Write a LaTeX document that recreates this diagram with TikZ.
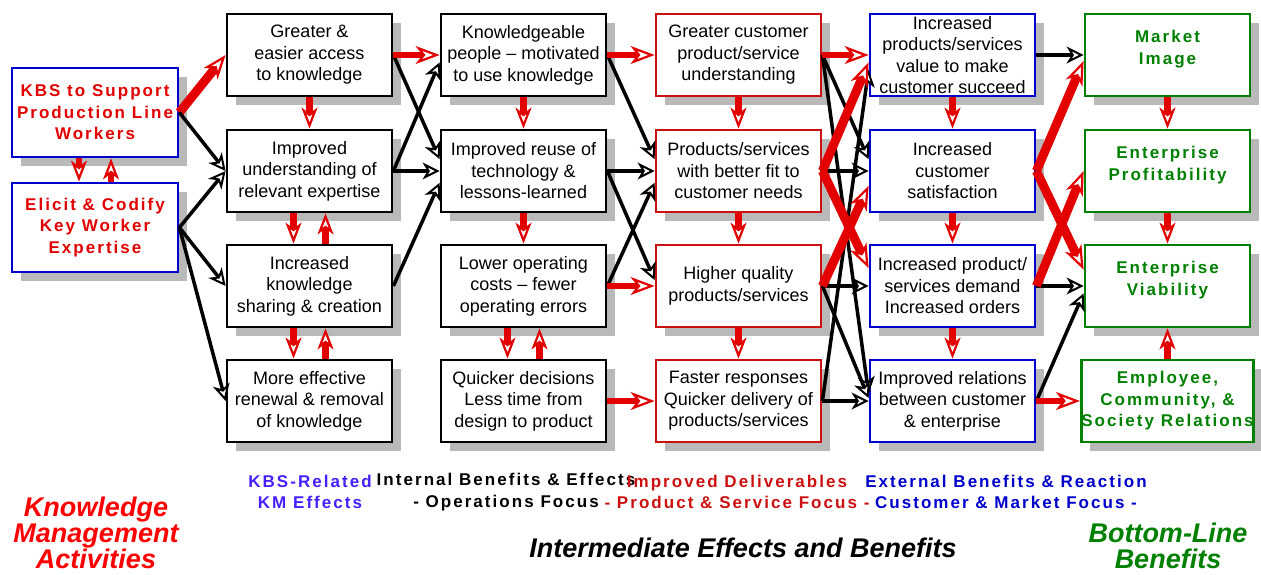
\documentclass[tikz,border=0pt]{standalone}
\usepackage{fontspec}
\setmainfont{Liberation Sans}
\newfontfamily\spacedsans[LetterSpace=12]{Liberation Sans}
\usetikzlibrary{arrows.meta,shadows,calc}
\definecolor{kmred}{RGB}{226,0,0}
\definecolor{arrred}{RGB}{226,0,0}
\definecolor{dlvred}{RGB}{204,16,16}
\definecolor{extblue}{RGB}{0,0,204}
\definecolor{kbsviolet}{RGB}{70,30,255}
\definecolor{blgreen}{RGB}{0,128,0}
\definecolor{titlered}{RGB}{255,0,0}
\tikzset{
  shbox/.style={draw, line width=2.8pt, fill=white, align=center, inner sep=0pt,
    minimum width=165pt, minimum height=82pt,
    drop shadow={shadow xshift=9pt, shadow yshift=-9pt, fill=gray!55, opacity=1}},
  effbox/.style={shbox, font=\fontsize{18}{21.5}\selectfont},
  kmbox/.style={shbox, draw=extblue, text=kmred, minimum width=166pt, minimum height=89pt,
    font=\spacedsans\bfseries\fontsize{17}{21.5}\selectfont},
  blbox/.style={shbox, draw=blgreen, text=blgreen, font=\spacedsans\bfseries\fontsize{17}{21.5}\selectfont},
  legend/.style={align=center, font=\spacedsans\bfseries\fontsize{17}{21.5}\selectfont},
  bigtitle/.style={align=center, font=\bfseries\itshape\fontsize{27}{26}\selectfont},
  blkarr/.style={line width=3.5pt, -{Stealth[length=17pt, width=17pt, inset=5pt, line width=2pt, fill=white]}},
  redarr/.style={arrred, line width=6.5pt, -{Stealth[length=24pt, width=18pt, inset=7pt, line width=2.2pt, fill=white]}},
  redfat/.style={redarr, line width=9pt},
  redv/.style={arrred, line width=6.5pt, -{Stealth[length=21pt, width=16pt, inset=6pt, line width=2.2pt, fill=white]}}
}
\begin{document}
\begin{tikzpicture}[x=1pt, y=-1pt]
  \useasboundingbox (0,0) rectangle (1261,574);
  % km activities
  \node[kmbox] (kbs) at (95,112.5) {KBS to Support\\Production Line\\Workers};
  \node[kmbox] (elicit) at (95,227.5) {Elicit \& Codify\\Key Worker\\Expertise};
  % kbs-related km effects
  \node[effbox] (c1r1) at (309.5,55) {Greater \&\\easier access\\to knowledge};
  \node[effbox] (c1r2) at (309.5,171) {Improved\\understanding of\\relevant expertise};
  \node[effbox] (c1r3) at (309.5,286) {Increased\\knowledge\\sharing \& creation};
  \node[effbox] (c1r4) at (309.5,401) {More effective\\renewal \& removal\\of knowledge};
  % internal benefits
  \node[effbox] (c2r1) at (523.5,55) {Knowledgeable\\people -- motivated\\to use knowledge};
  \node[effbox] (c2r2) at (523.5,171) {Improved reuse of\\technology \&\\lessons-learned};
  \node[effbox] (c2r3) at (523.5,286) {Lower operating\\costs -- fewer\\operating errors};
  \node[effbox] (c2r4) at (523.5,401) {Quicker decisions\\Less time from\\design to product};
  % improved deliverables
  \node[effbox, draw=dlvred] (c3r1) at (738.5,55) {Greater customer\\product/service\\understanding};
  \node[effbox, draw=dlvred] (c3r2) at (738.5,171) {Products/services\\with better fit to\\customer needs};
  \node[effbox, draw=dlvred] (c3r3) at (738.5,286) {Higher quality\\products/services};
  \node[effbox, draw=dlvred] (c3r4) at (738.5,401) {Faster responses\\Quicker delivery of\\products/services};
  % external benefits
  \node[effbox, draw=extblue] (c4r1) at (952.5,55) {Increased\\products/services\\value to make\\customer succeed};
  \node[effbox, draw=extblue] (c4r2) at (952.5,171) {Increased\\customer\\satisfaction};
  \node[effbox, draw=extblue] (c4r3) at (952.5,286) {Increased product/\\services demand\\Increased orders};
  \node[effbox, draw=extblue] (c4r4) at (952.5,401) {Improved relations\\between customer\\\& enterprise};
  % bottom line
  \node[blbox] (c5r1) at (1167.5,55) {Market\\Image\\[-6pt]\mbox{}};
  \node[blbox] (c5r2) at (1167.5,171) {Enterprise\\Profitability\\[-6pt]\mbox{}};
  \node[blbox] (c5r3) at (1167.5,286) {Enterprise\\Viability\\[-6pt]\mbox{}};
  \node[blbox] (c5r4) at (1167.5,401) {Employee,\\Community, \&\\Society Relations};

  % vertical links
  \foreach \a/\b in {c1r1/c1r2, c2r1/c2r2, c2r2/c2r3, c3r1/c3r2, c3r2/c3r3, c3r3/c3r4,
                     c4r1/c4r2, c4r2/c4r3, c4r3/c4r4, c5r1/c5r2, c5r2/c5r3, c5r4/c5r3}
    \draw[redv] (\a) -- (\b);
  \foreach \a/\b in {kbs/elicit, c1r2/c1r3, c1r3/c1r4, c2r3/c2r4}{
    \draw[redv] ($(\a.south)+(-16,0)$) -- ($(\b.north)+(-16,0)$);
    \draw[redv] ($(\b.north)+(16,0)$) -- ($(\a.south)+(16,0)$);
  }

  % km activities -> effects
  \draw[redfat] (kbs.east) -- (c1r1.west);
  \draw[blkarr] (kbs.east) -- (c1r2.west);
  \draw[blkarr] (elicit.east) -- (c1r2.west);
  \draw[blkarr] (elicit.east) -- (c1r3.west);
  \draw[blkarr] (elicit.east) -- (c1r4.west);

  % effects -> internal benefits
  \draw[blkarr] (c1r1.east) -- (c2r2.172);
  \draw[blkarr] (c1r2.east) -- (c2r1.185);
  \draw[blkarr] (c1r2.east) -- (c2r2.west);
  \draw[blkarr] (c1r3.east) -- (c2r2.188);
  \draw[redarr] (c1r1.east) -- (c2r1.west);

  % internal benefits -> deliverables
  \draw[blkarr] (c2r1.east) -- (c3r2.172);
  \draw[blkarr] (c2r2.east) -- (c3r2.west);
  \draw[blkarr] (c2r2.east) -- (c3r3.176);
  \draw[blkarr] (c2r3.east) -- (c3r2.188);
  \draw[redarr] (c2r1.east) -- (c3r1.west);
  \draw[redarr] (c2r3.east) -- (c3r3.west);
  \draw[redarr] (c2r4.east) -- (c3r4.west);

  % deliverables -> external benefits
  \draw[blkarr] (c3r1.east) -- (c4r2.172);
  \draw[blkarr] (c3r1.east) -- (c4r4.175);
  \draw[blkarr] (c3r2.east) -- (c4r2.west);
  \draw[blkarr] (c3r3.east) -- (c4r3.west);
  \draw[blkarr] (c3r3.east) -- (c4r4.178);
  \draw[blkarr] (c3r4.east) -- (c4r4.west);
  \draw[blkarr] (c3r4.east) -- (c4r1.190);
  \draw[redarr] (c3r1.east) -- (c4r1.west);
  \draw[redfat] (c3r2.east) -- (c4r1.185);
  \draw[redfat] (c3r2.east) -- (c4r3.168);
  \draw[redfat] (c3r3.east) -- (c4r2.190);

  % external benefits -> bottom line
  \draw[blkarr] (c4r1.east) -- (c5r1.west);
  \draw[blkarr] (c4r3.east) -- (c5r3.west);
  \draw[blkarr] (c4r4.east) -- (c5r3.185);
  \draw[redfat] (c4r2.east) -- (c5r1.184);
  \draw[redfat] (c4r2.east) -- (c5r3.169);
  \draw[redfat] (c4r3.east) -- (c5r2.west);
  \draw[redarr] (c4r4.east) -- (c5r4.west);

  % column legends
  \node[legend, text=kbsviolet] (kmeff) at (310,492) {KBS-Related\\KM Effects};
  \node[legend] (intben) at (506,492) {Internal Benefits \& Effects\\- Operations Focus};
  \node[legend, text=dlvred] (impdel) at (737,492) {Improved Deliverables\\- Product \& Service Focus -};
  \node[legend, text=extblue] (extben) at (1006,492) {External Benefits \& Reaction\\Customer \& Market Focus -};

  % titles
  \node[bigtitle, text=titlered] (kmact) at (96,533) {Knowledge\\Management\\Activities};
  \node[bigtitle] (interm) at (743,548) {Intermediate Effects and Benefits};
  \node[bigtitle, text=blgreen] (botline) at (1168,546) {Bottom-Line\\Benefits};
\end{tikzpicture}
\end{document}
